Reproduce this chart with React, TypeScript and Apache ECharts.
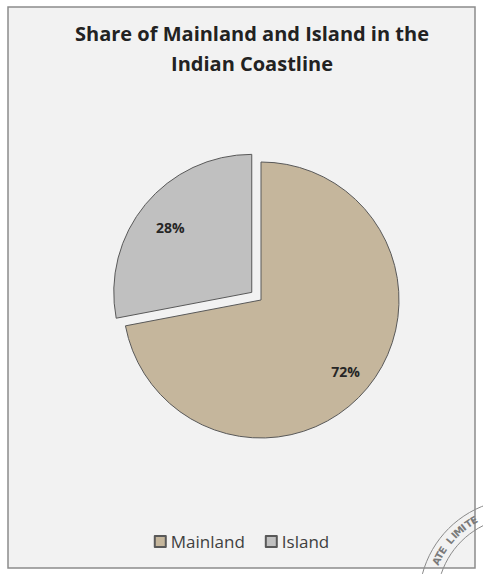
import React, { useEffect, useRef } from "react";
import * as echarts from "echarts";

const titleLines = ["Share of Mainland and Island in the", "Indian Coastline"];
const categories = ["Mainland", "Island"];
const values = [72, 28];
const colors = ["#c5b69c", "#c0c0c0"];

export default function App() {
  const ref = useRef<HTMLDivElement>(null);
  useEffect(() => {
    if (!ref.current) return;
    const chart = echarts.init(ref.current, null, { renderer: "svg" });
    const labelPads = [
      [0, 0, 0, 58],
      [0, 52, 0, 0],
    ];
    const labelFormats = ["\n\n{d}%", "{d}%\n\n"];
    const labelLH = [26, 19];
    const stampLetters = "ATE LIMITE".split("");
    const stampGraphics: any[] = [];
    const cx = 520, cy = 600, rr = 92;
    const startA = 205, endA = 240;
    stampLetters.forEach((ch, i) => {
      const a = ((startA + (endA - startA) * (i / (stampLetters.length - 1))) * Math.PI) / 180;
      const x = cx + rr * Math.cos(a);
      const y = cy + rr * Math.sin(a);
      stampGraphics.push({
        type: "text",
        x,
        y,
        rotation: -(a + Math.PI / 2),
        style: {
          text: ch,
          fill: "#7a7a7a",
          font: "bold 10px 'DejaVu Sans'",
          textAlign: "center",
          textVerticalAlign: "middle",
        },
        silent: true,
      });
    });
    chart.setOption({
      animation: false,
      backgroundColor: "#ffffff",
      title: {
        text: titleLines.join("\n"),
        left: 247,
        textAlign: "center",
        top: 13,
        textStyle: {
          fontFamily: "Open Sans",
          fontWeight: "bold",
          fontSize: 20,
          lineHeight: 30,
          color: "#222222",
        },
      },
      graphic: [
        {
          type: "rect",
          shape: { x: 8, y: 7, width: 467, height: 561 },
          style: { fill: "#f2f2f2", stroke: "#8c8c8c", lineWidth: 1.5 },
          z: -10,
          silent: true,
        },
        {
          type: "circle",
          shape: { cx, cy, r: 101 },
          style: { fill: "none", stroke: "#8a8a8a", lineWidth: 1 },
          silent: true,
        },
        {
          type: "circle",
          shape: { cx, cy, r: 83 },
          style: { fill: "none", stroke: "#8a8a8a", lineWidth: 1 },
          silent: true,
        },
        ...stampGraphics,
      ],
      legend: {
        data: categories,
        bottom: 19,
        left: "center",
        itemWidth: 11,
        itemHeight: 11,
        itemGap: 20,
        icon: "rect",
        textStyle: { fontFamily: "Open Sans", fontSize: 17, color: "#404040" },
      },
      series: [
        {
          type: "pie",
          center: [261, 300],
          radius: 138,
          startAngle: 90,
          clockwise: true,
          selectedMode: "single",
          selectedOffset: 12,
          itemStyle: { borderColor: "#595959", borderWidth: 1 },
          emphasis: { disabled: true },
          label: {
            show: true,
            position: "inside",
            fontFamily: "Open Sans",
            fontWeight: "bold",
            fontSize: 14,
            color: "#262626",
          },
          labelLine: { show: false },
          data: categories.map((name, i) => ({
            name,
            value: values[i],
            selected: i === 1,
            itemStyle: { color: colors[i] },
            label: {
              padding: labelPads[i],
              formatter: labelFormats[i],
              lineHeight: labelLH[i],
            },
          })),
        },
      ],
    });
    return () => chart.dispose();
  }, []);
  return (
    <div
      ref={ref}
      style={{ position: "absolute", left: 0, top: 0, width: 483, height: 574 }}
    />
  );
}
